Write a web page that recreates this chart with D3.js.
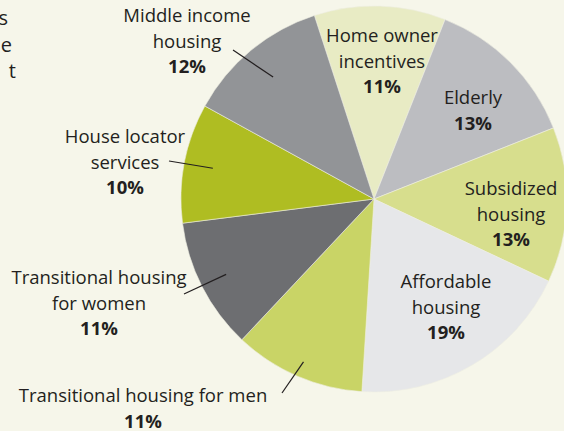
<!DOCTYPE html>
<html>
<head>
<meta charset="utf-8">
<script src="https://cdn.jsdelivr.net/npm/d3@7"></script>
<style>
  html, body { margin: 0; padding: 0; background: #f6f6ea; }
  svg { display: block; }
  text { font-family: "Open Sans", sans-serif; fill: #231f20; }
  .pct { font-weight: 700; }
</style>
</head>
<body>
<div id="pie-area"></div>
<script>
// slices, clockwise from the top-left edge of "Home owner incentives"
const categories = ["Home owner incentives", "Elderly", "Subsidized housing", "Affordable housing",
    "Transitional housing for men", "Transitional housing for women", "House locator services", "Middle income housing"];
const shares = [11, 13, 13, 19, 11, 11, 10, 12];
const sliceColors = ["#e8ebc4", "#bcbdc1", "#d7de8d", "#e6e7e9", "#c9d466", "#6d6e71", "#afbd22", "#929497"];

// label lines as printed
const labelLines = [
    ["Home owner", "incentives"],
    ["Elderly"],
    ["Subsidized", "housing"],
    ["Affordable", "housing"],
    ["Transitional housing for men"],
    ["Transitional housing", "for women"],
    ["House locator", "services"],
    ["Middle income", "housing"]
];

// clipped tail of the paragraph on the left edge
const clippedText = ["s", "e", "t"];

const width = 564, height = 431;
const cx = 374, cy = 199, radius = 193;
const lineGap = 25.5;

// label anchor: x centre, baseline of first line; leader: [outer x, outer y, radius fraction] or null
const labelLayout = {
    "Home owner incentives": {x: 382, y: 42, leader: null},
    "Elderly": {x: 473, y: 104, leader: null},
    "Subsidized housing": {x: 511, y: 195, leader: null},
    "Affordable housing": {x: 446, y: 288, leader: null},
    "Transitional housing for men": {x: 143, y: 402, leader: [282, 393, 0.92]},
    "Transitional housing for women": {x: 99, y: 284, leader: [184, 294, 0.86]},
    "House locator services": {x: 125, y: 143, leader: [169, 161, 0.85]},
    "Middle income housing": {x: 187, y: 22, leader: [233, 50, 0.82]}
};

const data = categories.map((c, i) => ({category: c, share: shares[i], color: sliceColors[i], lines: labelLines[i]}));

const svg = d3.select("#pie-area").append("svg")
    .attr("width", width)
    .attr("height", height);

svg.append("rect").attr("width", width).attr("height", height).attr("fill", "#f6f6ea");

// paragraph fragments
svg.selectAll(".clip-text")
    .data(clippedText)
    .join("text")
    .attr("class", "clip-text")
    .attr("x", (d, i) => 8 + i * 4)
    .attr("y", (d, i) => 25 + i * 26.5)
    .attr("text-anchor", "end")
    .attr("font-size", 20)
    .text(d => d);

const startAngle = -18 * Math.PI / 180;
const pie = d3.pie()
    .value(d => d.share)
    .sort(null)
    .startAngle(startAngle)
    .endAngle(startAngle + 2 * Math.PI);

const arcs = pie(data);
const arc = d3.arc().innerRadius(0).outerRadius(radius);

const g = svg.append("g").attr("transform", `translate(${cx},${cy})`);

g.selectAll(".slice")
    .data(arcs)
    .join("path")
    .attr("class", "slice")
    .attr("d", arc)
    .attr("fill", d => d.data.color)
    .attr("stroke", "#eeeee2")
    .attr("stroke-width", 0.6);

// leader lines
arcs.forEach(a => {
    const lay = labelLayout[a.data.category];
    if (!lay.leader) return;
    const [ox, oy, k] = lay.leader;
    const mid = (a.startAngle + a.endAngle) / 2;
    const ix = cx + Math.sin(mid) * radius * k;
    const iy = cy - Math.cos(mid) * radius * k;
    svg.append("line")
        .attr("x1", ox).attr("y1", oy)
        .attr("x2", ix).attr("y2", iy)
        .attr("stroke", "#231f20")
        .attr("stroke-width", 1.2);
});

// labels
const labels = svg.selectAll(".label")
    .data(arcs)
    .join("text")
    .attr("class", "label")
    .attr("text-anchor", "middle")
    .attr("font-size", 18.5)
    .attr("transform", d => {
        const lay = labelLayout[d.data.category];
        return `translate(${lay.x},${lay.y})`;
    });

labels.each(function (d) {
    const t = d3.select(this);
    d.data.lines.forEach((line, i) => {
        t.append("tspan").attr("x", 0).attr("y", i * lineGap).text(line);
    });
    t.append("tspan")
        .attr("class", "pct")
        .attr("x", 0)
        .attr("y", d.data.lines.length * lineGap)
        .text(d.data.share + "%");
});
</script>
</body>
</html>
